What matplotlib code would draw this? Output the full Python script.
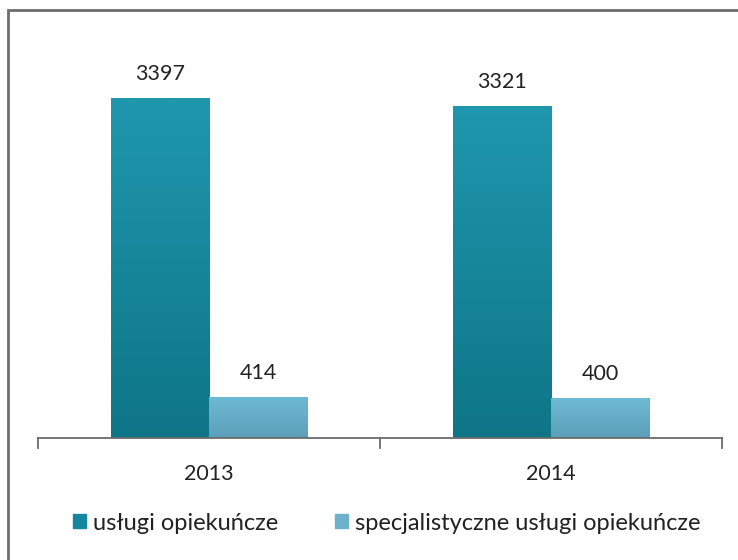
import numpy as np
import matplotlib.pyplot as plt
from matplotlib.colors import LinearSegmentedColormap
from matplotlib.patches import Rectangle
from matplotlib.lines import Line2D

plt.rcParams['font.family'] = ['Lato', 'DejaVu Sans']

years = ['2013', '2014']
series_names = ['usługi opiekuńcze', 'specjalistyczne usługi opiekuńcze']
uslugi = [3397, 3321]
specjalistyczne = [414, 400]

# gradient colours (top, bottom) per series
grad_colors = [('#1f97ae', '#0e7587'), ('#6fbad5', '#5c9fb8')]
legend_colors = ['#1586a0', '#6cb2cc']
text_color = '#222222'

fig = plt.figure(figsize=(7.38, 5.6), dpi=100)
ax = fig.add_axes([38 / 738, (560 - 438) / 560, (722 - 38) / 738, 400 / 560])

x = np.arange(len(years))
width = 0.287
values = [uslugi, specjalistyczne]
offsets = [-width / 2, width / 2]

for vals, off, (ctop, cbot) in zip(values, offsets, grad_colors):
    bars = ax.bar(x + off, vals, width, color=ctop, linewidth=0, zorder=2)
    cmap = LinearSegmentedColormap.from_list('g', [cbot, ctop])
    grad = np.linspace(0, 1, 256).reshape(-1, 1)
    for b, v in zip(bars, vals):
        bx, bw, bh = b.get_x(), b.get_width(), b.get_height()
        im = ax.imshow(grad, cmap=cmap, origin='lower', aspect='auto',
                       extent=(bx, bx + bw, 0, bh), zorder=3)
        im.set_clip_path(b)
        ax.text(bx + bw / 2, bh + 140, f'{v}', ha='center', va='bottom',
                fontsize=15.5, color=text_color)

ax.set_xlim(-0.5, len(years) - 0.5)
ax.set_ylim(0, 4000)
ax.set_yticks([])
for s in ['top', 'right', 'left']:
    ax.spines[s].set_visible(False)
ax.spines['bottom'].set_color('#6b6b6b')
ax.spines['bottom'].set_linewidth(1.3)
ax.spines['bottom'].set_zorder(4)

ax.set_xticks(x)
ax.set_xticklabels(years, fontsize=15.5, color=text_color)
ax.tick_params(axis='x', length=0, pad=19)
# category separators below the axis
for xb in [-0.5, 0.5, 1.5]:
    ax.add_line(Line2D([xb, xb], [0, -95], color='#6b6b6b', lw=1.3, clip_on=False))

handles = [Rectangle((0, 0), 1, 1, color=c) for c in legend_colors]
fig.legend(handles, series_names, loc='center', bbox_to_anchor=(387 / 738, 1 - 523 / 560),
           ncol=2, frameon=False, fontsize=17, handlelength=0.55, handleheight=0.55,
           handletextpad=0.3, columnspacing=2.4, labelcolor=text_color,
           borderpad=0, borderaxespad=0)

# outer frame around the chart
fig.add_artist(Rectangle((8 / 738, -0.1), 1.2, 1 - 10 / 560 + 0.1, transform=fig.transFigure,
                         fill=False, edgecolor='#6e6e6e', linewidth=2))

fig.savefig('out.png', dpi=100)
